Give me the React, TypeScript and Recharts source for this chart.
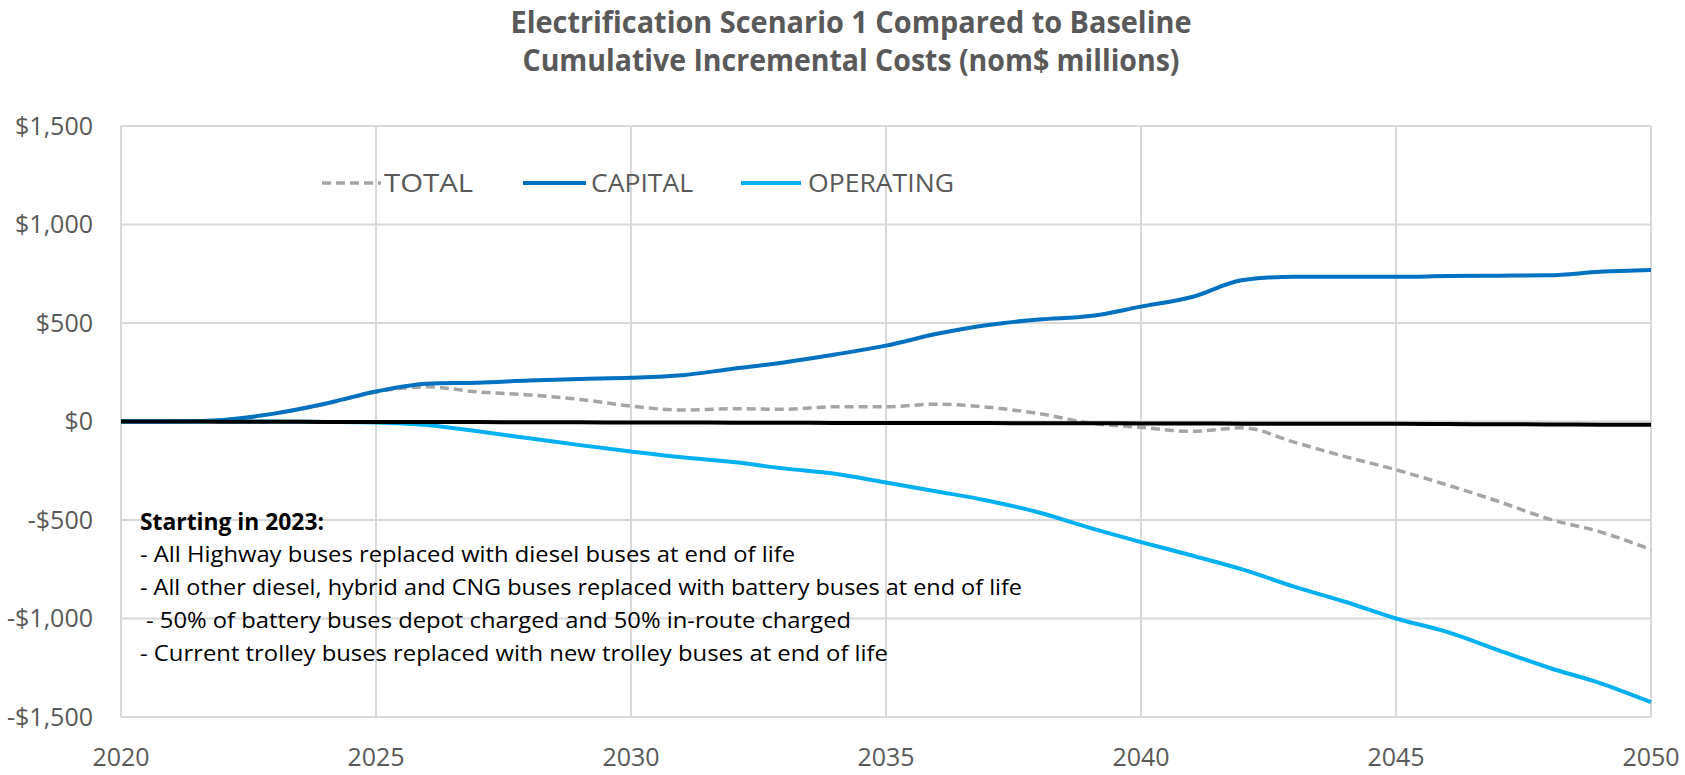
import React from 'react';
import { LineChart, Line, XAxis, YAxis, CartesianGrid, Legend } from 'recharts';

// ---- data (nominal $ millions, cumulative) ----
const years = [
  2020, 2021, 2022, 2023, 2024, 2025, 2026, 2027, 2028, 2029,
  2030, 2031, 2032, 2033, 2034, 2035, 2036, 2037, 2038, 2039,
  2040, 2041, 2042, 2043, 2044, 2045, 2046, 2047, 2048, 2049, 2050,
];
const totalCost = [
  0, 0, 6, 40, 88, 150, 176, 150, 135, 112,
  78, 58, 65, 62, 75, 75, 88, 72, 40, -8,
  -30, -50, -32, -105, -178, -245, -322, -405, -495, -560, -650,
];
const capitalCost = [
  0, 0, 8, 40, 90, 152, 192, 197, 208, 216,
  222, 235, 268, 300, 340, 385, 445, 490, 518, 535,
  583, 632, 718, 735, 735, 735, 738, 740, 742, 760, 769,
];
const operatingCost = [
  0, 0, 0, 0, -2, -5, -18, -50, -85, -120,
  -152, -182, -206, -238, -265, -310, -355, -402, -462, -540,
  -612, -680, -752, -838, -915, -1000, -1068, -1160, -1250, -1328, -1425,
];
const zeroLine = [
  0, 0, -1, -1, -2, -2, -3, -3, -4, -4,
  -5, -5, -6, -6, -7, -7, -8, -8, -9, -9,
  -10, -10, -11, -11, -12, -12, -13, -14, -15, -16, -17,
];

const xTicks = [2020, 2025, 2030, 2035, 2040, 2045, 2050];
const yTicks = [-1500, -1000, -500, 0, 500, 1000, 1500];

const titleLines = [
  'Electrification Scenario 1 Compared to Baseline',
  'Cumulative Incremental Costs (nom$ millions)',
];
const noteHeading = 'Starting in 2023:';
const noteLines = [
  '- All Highway buses replaced with diesel buses at end of life',
  '- All other diesel, hybrid and CNG buses replaced with battery buses at end of life',
  ' - 50% of battery buses depot charged and 50% in-route charged',
  '- Current trolley buses replaced with new trolley buses at end of life',
];

const series = [
  { key: 'total', name: 'TOTAL', color: '#A5A5A5', width: 3.5, dash: '9 5' },
  { key: 'capital', name: 'CAPITAL', color: '#0070C0', width: 4, dash: undefined },
  { key: 'operating', name: 'OPERATING', color: '#00B0F0', width: 4, dash: undefined },
];

const rows = years.map((year, i) => ({
  year,
  total: totalCost[i],
  capital: capitalCost[i],
  operating: operatingCost[i],
  zero: zeroLine[i],
}));

const FONT = "'Open Sans', 'DejaVu Sans', sans-serif";
const GREY_TEXT = '#595959';

const money = (v: number) =>
  v < 0 ? `-$${Math.abs(v).toLocaleString('en-US')}` : `$${v.toLocaleString('en-US')}`;

// legend box geometry (page pixels)
const LEGEND_LEFT = 300;
const LEGEND_TOP = 160;
const legendItems = [
  { x1: 322, x2: 381, tx: 384, tw: 89 },
  { x1: 523, x2: 586, tx: 591, tw: 102 },
  { x1: 741, x2: 801, tx: 808, tw: 146 },
];

const LegendContent = () => (
  <svg width={700} height={46} style={{ display: 'block', overflow: 'visible' }}>
    {series.map((s, i) => {
      const it = legendItems[i];
      return (
        <g key={s.key}>
          <line
            x1={it.x1 - LEGEND_LEFT}
            x2={it.x2 - LEGEND_LEFT}
            y1={23}
            y2={23}
            stroke={s.color}
            strokeWidth={s.width}
            strokeDasharray={s.dash}
          />
          <text
            x={it.tx - LEGEND_LEFT}
            y={32}
            fontFamily={FONT}
            fontSize={25}
            fill={GREY_TEXT}
            textLength={it.tw}
            lengthAdjust="spacingAndGlyphs"
          >
            {s.name}
          </text>
        </g>
      );
    })}
  </svg>
);

const noteWidths = [655, 882, 705, 748];

export default function App() {
  return (
    <div
      style={{
        position: 'absolute',
        left: 0,
        top: 0,
        width: 1685,
        height: 775,
        background: '#ffffff',
        overflow: 'hidden',
      }}
    >
      <LineChart
        width={1685}
        height={775}
        data={rows}
        margin={{ top: 126, right: 34, bottom: 8, left: 11 }}
      >
        <CartesianGrid stroke="#D9D9D9" strokeWidth={2} />
        <XAxis
          dataKey="year"
          type="number"
          domain={[2020, 2050]}
          ticks={xTicks}
          height={50}
          axisLine={false}
          tickLine={false}
          tickSize={0}
          tickMargin={31}
          interval={0}
          tick={{ fontFamily: FONT, fontSize: 25, fill: GREY_TEXT }}
        />
        <YAxis
          type="number"
          domain={[-1500, 1500]}
          ticks={yTicks}
          width={110}
          axisLine={false}
          tickLine={false}
          tickSize={0}
          tickMargin={28}
          interval={0}
          tickFormatter={money}
          tick={{ fontFamily: FONT, fontSize: 25, fill: GREY_TEXT }}
        />
        <Legend
          layout="horizontal"
          verticalAlign="middle"
          align="center"
          wrapperStyle={{ left: LEGEND_LEFT, top: LEGEND_TOP, width: 700, height: 46 }}
          content={() => <LegendContent />}
        />
        {series.map((s) => (
          <Line
            key={s.key}
            type="monotone"
            dataKey={s.key}
            name={s.name}
            stroke={s.color}
            strokeWidth={s.width}
            strokeDasharray={s.dash}
            dot={false}
            activeDot={false}
            isAnimationActive={false}
          />
        ))}
        <Line
          type="monotone"
          dataKey="zero"
          name="Baseline"
          stroke="#000000"
          strokeWidth={4}
          dot={false}
          activeDot={false}
          legendType="none"
          isAnimationActive={false}
        />
      </LineChart>

      <svg
        width={1685}
        height={775}
        style={{ position: 'absolute', left: 0, top: 0, pointerEvents: 'none' }}
      >
        <text
          x={851}
          y={33}
          textAnchor="middle"
          fontFamily={FONT}
          fontWeight={700}
          fontSize={30}
          fill={GREY_TEXT}
          textLength={681}
          lengthAdjust="spacingAndGlyphs"
        >
          {titleLines[0]}
        </text>
        <text
          x={851}
          y={71}
          textAnchor="middle"
          fontFamily={FONT}
          fontWeight={700}
          fontSize={30}
          fill={GREY_TEXT}
          textLength={657}
          lengthAdjust="spacingAndGlyphs"
        >
          {titleLines[1]}
        </text>

        <text
          x={140}
          y={530}
          fontFamily={FONT}
          fontWeight={700}
          fontSize={22.5}
          fill="#000000"
          textLength={184}
          lengthAdjust="spacingAndGlyphs"
        >
          {noteHeading}
        </text>
        {noteLines.map((line, i) => (
          <text
            key={i}
            x={line.startsWith(' ') ? 146 : 140}
            y={562 + i * 33}
            fontFamily={FONT}
            fontSize={22.5}
            fill="#000000"
            textLength={noteWidths[i]}
            lengthAdjust="spacingAndGlyphs"
          >
            {line.trim()}
          </text>
        ))}
      </svg>
    </div>
  );
}
